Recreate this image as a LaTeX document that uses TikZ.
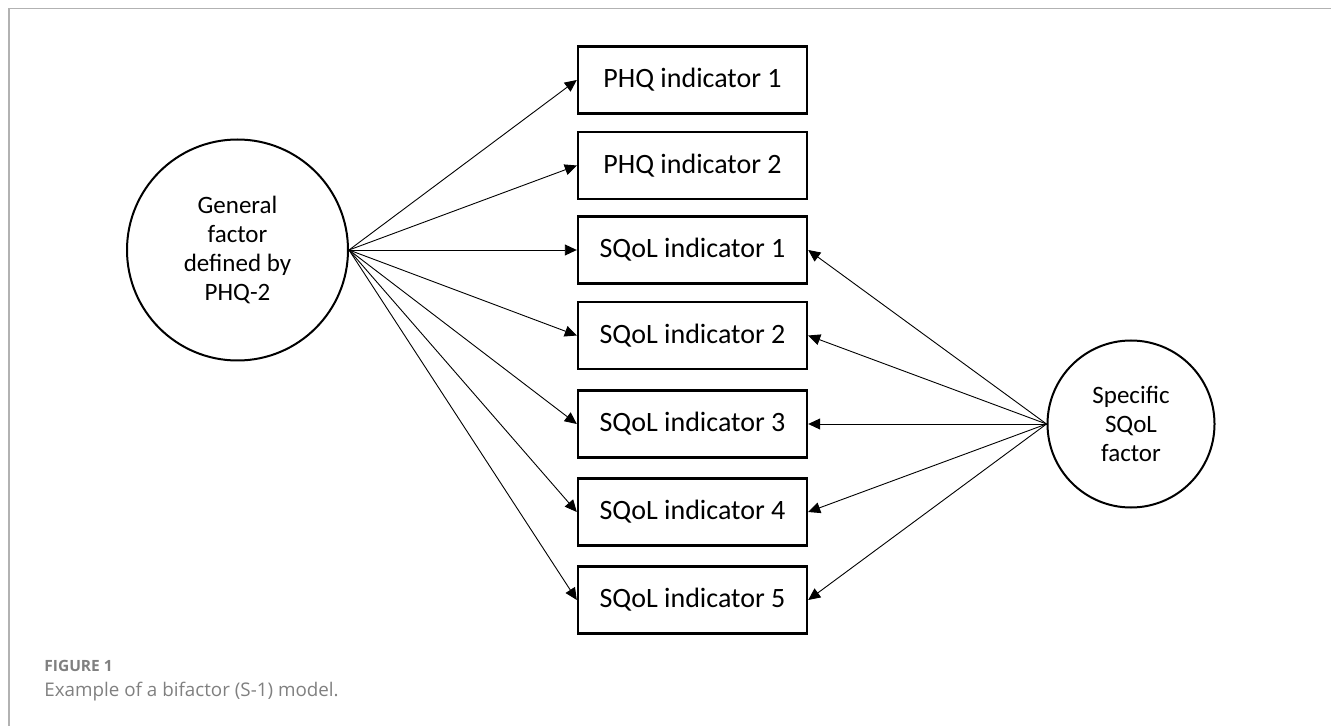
\documentclass[tikz,border=0pt]{standalone}
\usepackage{fontspec}
\setmainfont{Carlito}
\newfontfamily\capfont{Open Sans}
\usetikzlibrary{arrows.meta}

\tikzset{
    indicator/.style={rectangle, draw, line width=1.2pt, minimum width=114.5pt, minimum height=33.5pt, font=\fontsize{14}{16}\selectfont},
    factor/.style={circle, draw, line width=1pt, align=center, inner sep=0pt, font=\fontsize{12.5}{14.5}\selectfont},
    load/.style={-{Triangle[length=6pt, width=5.5pt]}, line width=0.45pt}
}

\begin{document}
\begin{tikzpicture}[x=0.5pt, y=-0.5pt]
        \useasboundingbox (0, 0) rectangle (1331, 726);

        % Frame
        \draw[gray!60, line width=0.8pt] (9, 726) -- (9, 8.5) -- (1331, 8.5);

        % Nodes
        \node[factor, minimum size=110.5pt] (G) at (237.5, 250) {General\\factor\\defined by\\PHQ-2};
        \node[factor, minimum size=83.5pt] (S) at (1131, 424) {Specific\\SQoL\\factor};

        \node[indicator] (P1) at (692.5, 80) {PHQ indicator 1};
        \node[indicator] (P2) at (692.5, 165.5) {PHQ indicator 2};
        \node[indicator] (Q1) at (692.5, 250) {SQoL indicator 1};
        \node[indicator] (Q2) at (692.5, 335.5) {SQoL indicator 2};
        \node[indicator] (Q3) at (692.5, 424) {SQoL indicator 3};
        \node[indicator] (Q4) at (692.5, 512) {SQoL indicator 4};
        \node[indicator] (Q5) at (692.5, 600) {SQoL indicator 5};

        % Arrows
        \draw[load] (G.east) -- (P1.west);
        \draw[load] (G.east) -- (P2.west);
        \draw[load] (G.east) -- (Q1.west);
        \draw[load] (G.east) -- (Q2.west);
        \draw[load] (G.east) -- (Q3.west);
        \draw[load] (G.east) -- (Q4.west);
        \draw[load] (G.east) -- (Q5.west);
        \draw[load] (S.west) -- (Q1.east);
        \draw[load] (S.west) -- (Q2.east);
        \draw[load] (S.west) -- (Q3.east);
        \draw[load] (S.west) -- (Q4.east);
        \draw[load] (S.west) -- (Q5.east);

        % Caption
        \node[anchor=base west, inner sep=0pt, text=gray, font=\capfont\fontsize{7.75}{9}\selectfont\bfseries] (fig) at (44, 671) {FIGURE 1};
        \node[anchor=base west, inner sep=0pt, text=gray, font=\capfont\fontsize{9.4}{11}\selectfont] (cap) at (44, 696) {Example of a bifactor (S-1) model.};

    \end{tikzpicture}
\end{document}
